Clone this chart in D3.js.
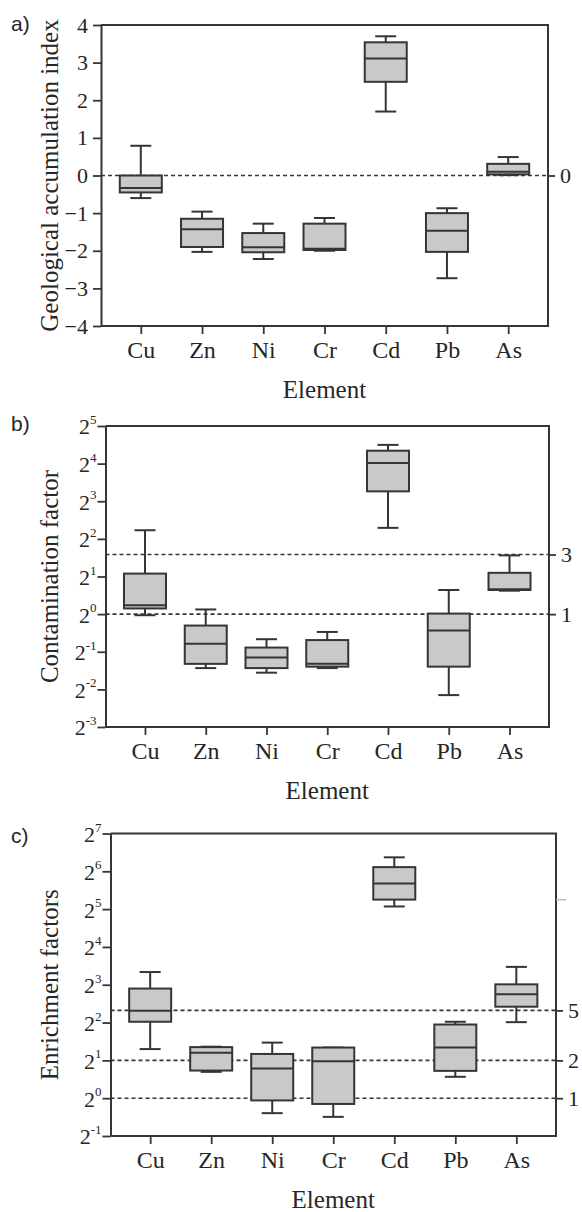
<!DOCTYPE html>
<html>
<head>
<meta charset="utf-8">
<script src="https://cdn.jsdelivr.net/npm/d3@7"></script>
<style>
  body { margin: 0; background: #fff; }
  svg { display: block; }
</style>
</head>
<body>
<svg id="chart" width="582" height="1212"></svg>
<script>
// Elements on the x axis
const elements = ["Cu", "Zn", "Ni", "Cr", "Cd", "Pb", "As"];

// Five-number summaries per element: [min, q1, median, q3, max]
const igeoStats = [
  [-0.60, -0.45, -0.33, 0.00, 0.79],
  [-2.03, -1.90, -1.43, -1.15, -0.96],
  [-2.22, -2.04, -1.91, -1.53, -1.28],
  [-2.00, -1.98, -1.95, -1.28, -1.13],
  [1.70, 2.49, 3.11, 3.54, 3.70],
  [-2.73, -2.03, -1.47, -1.00, -0.87],
  [0.01, 0.03, 0.10, 0.31, 0.49]
];
const cfStats = [
  [0.98, 1.11, 1.18, 2.11, 4.69],
  [0.37, 0.40, 0.58, 0.81, 1.09],
  [0.34, 0.37, 0.45, 0.54, 0.63],
  [0.37, 0.38, 0.40, 0.62, 0.72],
  [4.9, 9.6, 16.2, 20.3, 22.6],
  [0.225, 0.38, 0.74, 1.01, 1.56],
  [1.54, 1.56, 1.58, 2.14, 2.95]
];
const efStats = [
  [2.46, 4.06, 4.96, 7.46, 10.1],
  [1.62, 1.66, 2.30, 2.55, 2.57],
  [0.76, 0.96, 1.72, 2.25, 2.77],
  [0.71, 0.90, 1.97, 2.53, 2.53],
  [33.6, 38.1, 51.3, 69.1, 82.7],
  [1.48, 1.65, 2.53, 3.86, 4.06],
  [4.03, 5.35, 6.73, 8.06, 11.1]
];

// Tick values
const igeoTicks = [-4, -3, -2, -1, 0, 1, 2, 3, 4];
const cfExponents = [-3, -2, -1, 0, 1, 2, 3, 4, 5];
const efExponents = [-1, 0, 1, 2, 3, 4, 5, 6, 7];

// Reference (threshold) lines, labelled on the right axis
const igeoRefs = [0];
const cfRefs = [1, 3];
const efRefs = [1, 2, 5];
// Unlabelled faint tick on the right axis of panel c
const efFaintTicks = [38];

const INK = "#353535";
const TEXT = "#262626";
const FILL = "#c9c9cb";
const SERIF = "'Liberation Serif', 'Times New Roman', serif";
const SANS = "'Liberation Sans', Arial, sans-serif";

const svg = d3.select("#chart");

const panels = [
  {
    tag: "a)", tagY: 31, title: "Geological accumulation index",
    stats: igeoStats, log: false, domain: [-4, 4], ticks: igeoTicks,
    refs: igeoRefs, faint: [],
    left: 101, right: 548, top: 25, bottom: 326
  },
  {
    tag: "b)", tagY: 431, title: "Contamination factor",
    stats: cfStats, log: true, domain: [-3, 5], ticks: cfExponents,
    refs: cfRefs, faint: [],
    left: 105.5, right: 549, top: 426, bottom: 727
  },
  {
    tag: "c)", tagY: 843, title: "Enrichment factors",
    stats: efStats, log: true, domain: [-1, 7], ticks: efExponents,
    refs: efRefs, faint: efFaintTicks,
    left: 110.5, right: 556, top: 833.5, bottom: 1136
  }
];

panels.forEach(p => {
  const g = svg.append("g");

  const x = d3.scalePoint().domain(elements)
    .range([p.left, p.right]).padding(0.65);

  const y = p.log
    ? d3.scaleLog().base(2).domain([2 ** p.domain[0], 2 ** p.domain[1]]).range([p.bottom, p.top])
    : d3.scaleLinear().domain(p.domain).range([p.bottom, p.top]);

  // Panel tag
  g.append("text")
    .attr("x", 11).attr("y", p.tagY)
    .attr("font-family", SANS).attr("font-size", 21)
    .attr("fill", TEXT)
    .text(p.tag);

  // Reference lines
  g.selectAll("line.ref").data(p.refs).join("line")
    .attr("class", "ref")
    .attr("x1", p.left).attr("x2", p.right)
    .attr("y1", d => y(d)).attr("y2", d => y(d))
    .attr("stroke", INK).attr("stroke-width", 1.6)
    .attr("stroke-dasharray", "4,3");

  // Frame: top and right border
  g.append("path")
    .attr("d", `M${p.left},${p.top}H${p.right}V${p.bottom}`)
    .attr("fill", "none").attr("stroke", INK).attr("stroke-width", 2);

  // Right axis ticks with labels for the reference lines
  const rightAxis = d3.axisRight(y)
    .tickValues(p.refs).tickSize(7).tickPadding(5)
    .tickFormat(d3.format("d"));
  const ra = g.append("g").attr("transform", `translate(${p.right},0)`).call(rightAxis);
  ra.select(".domain").remove();
  ra.selectAll(".tick line").attr("stroke", INK).attr("stroke-width", 1.8);
  ra.selectAll(".tick text")
    .attr("font-family", SERIF).attr("font-size", 22).attr("fill", TEXT);

  // Faint tick
  g.selectAll("line.faint").data(p.faint).join("line")
    .attr("class", "faint")
    .attr("x1", p.right).attr("x2", p.right + 10)
    .attr("y1", d => y(d)).attr("y2", d => y(d))
    .attr("stroke", "#b0b0b0").attr("stroke-width", 1.2);

  // Left axis
  const tickVals = p.log ? p.ticks.map(e => 2 ** e) : p.ticks;
  const leftAxis = d3.axisLeft(y).tickValues(tickVals)
    .tickSize(8).tickSizeOuter(0).tickPadding(5)
    .tickFormat(p.log ? () => "" : d3.format("d"));
  const la = g.append("g").attr("transform", `translate(${p.left},0)`).call(leftAxis);
  la.select(".domain").attr("stroke", INK).attr("stroke-width", 2);
  la.selectAll(".tick line").attr("stroke", INK).attr("stroke-width", 1.8);
  la.selectAll(".tick text")
    .attr("font-family", SERIF).attr("font-size", 22).attr("fill", TEXT);

  if (p.log) {
    la.selectAll(".tick").each(function(d) {
      const e = Math.round(Math.log2(d));
      const t = d3.select(this).select("text")
        .attr("x", -9).attr("dy", "0.36em").attr("text-anchor", "end");
      t.append("tspan").text("2");
      t.append("tspan")
        .attr("font-size", 13).attr("dy", "-0.8em")
        .text(e < 0 ? "-" + Math.abs(e) : e);
    });
  }

  // Bottom axis
  const bottomAxis = d3.axisBottom(x).tickSize(8).tickSizeOuter(0);
  const ba = g.append("g").attr("transform", `translate(0,${p.bottom})`).call(bottomAxis);
  ba.select(".domain").attr("stroke", INK).attr("stroke-width", 2)
    .attr("d", `M${p.left},0H${p.right + 1}`);
  ba.selectAll(".tick line").attr("stroke", INK).attr("stroke-width", 1.8);
  ba.selectAll(".tick text")
    .attr("font-family", SERIF).attr("font-size", 24).attr("fill", TEXT)
    .attr("y", 32).attr("dy", null);

  // Axis titles
  g.append("text")
    .attr("x", (p.left + p.right) / 2).attr("y", p.bottom + 72)
    .attr("text-anchor", "middle")
    .attr("font-family", SERIF).attr("font-size", 25).attr("fill", TEXT)
    .text("Element");

  g.append("text")
    .attr("transform", `translate(58,${(p.top + p.bottom) / 2}) rotate(-90)`)
    .attr("text-anchor", "middle")
    .attr("font-family", SERIF).attr("font-size", 25).attr("fill", TEXT)
    .text(p.title);

  // Box plots
  const boxW = 42, capW = 21;
  const boxes = g.selectAll("g.box").data(p.stats).join("g")
    .attr("class", "box")
    .attr("transform", (d, i) => `translate(${x(elements[i])},0)`);

  boxes.append("line") // whisker
    .attr("x1", 0).attr("x2", 0)
    .attr("y1", d => y(d[0])).attr("y2", d => y(d[4]))
    .attr("stroke", INK).attr("stroke-width", 2);
  boxes.append("line") // lower cap
    .attr("x1", -capW / 2).attr("x2", capW / 2)
    .attr("y1", d => y(d[0])).attr("y2", d => y(d[0]))
    .attr("stroke", INK).attr("stroke-width", 2);
  boxes.append("line") // upper cap
    .attr("x1", -capW / 2).attr("x2", capW / 2)
    .attr("y1", d => y(d[4])).attr("y2", d => y(d[4]))
    .attr("stroke", INK).attr("stroke-width", 2);
  boxes.append("rect")
    .attr("x", -boxW / 2).attr("width", boxW)
    .attr("y", d => y(d[3])).attr("height", d => y(d[1]) - y(d[3]))
    .attr("fill", FILL).attr("stroke", INK).attr("stroke-width", 2);
  boxes.append("line") // median
    .attr("x1", -boxW / 2).attr("x2", boxW / 2)
    .attr("y1", d => y(d[2])).attr("y2", d => y(d[2]))
    .attr("stroke", INK).attr("stroke-width", 2);
});
</script>
</body>
</html>
